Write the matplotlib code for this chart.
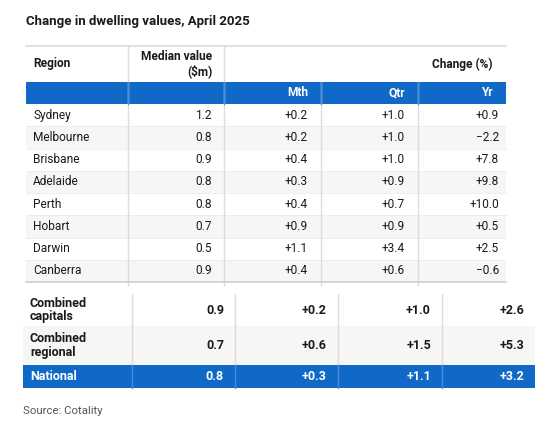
import matplotlib
matplotlib.use("Agg")
import matplotlib.pyplot as plt
from matplotlib.patches import Rectangle

plt.rcParams['font.family'] = ['Roboto', 'DejaVu Sans']

title = "Change in dwelling values, April 2025"
source = "Source: Cotality"

regions = ["Sydney", "Melbourne", "Brisbane", "Adelaide", "Perth", "Hobart", "Darwin", "Canberra"]
median = [1.2, 0.8, 0.9, 0.8, 0.8, 0.7, 0.5, 0.9]
mth = [0.2, 0.2, 0.4, 0.3, 0.4, 0.9, 1.1, 0.4]
qtr = [1.0, 1.0, 1.0, 0.9, 0.7, 0.9, 3.4, 0.6]
yr = [0.9, -2.2, 7.8, 9.8, 10.0, 0.5, 2.5, -0.6]

summary_labels = ["Combined\ncapitals", "Combined\nregional", "National"]
summary_median = [0.9, 0.7, 0.8]
summary_mth = [0.2, 0.6, 0.3]
summary_qtr = [1.0, 1.5, 1.1]
summary_yr = [2.6, 5.3, 3.2]

BLUE = "#1068c7"
GREY_BG = "#f6f6f6"
LINE = "#dcdcdc"
TXT = "#1a1a1a"
FS = 8.6
FSB = 9.0


def fmt(v):
    s = f"{abs(v):.1f}"
    return ("+" if v >= 0 else "\u2212") + s


W, H = 560, 424
fig = plt.figure(figsize=(W / 100, H / 100), dpi=100)
ax = fig.add_axes([0, 0, 1, 1])
ax.set_xlim(0, W)
ax.set_ylim(H, 0)
ax.axis("off")

ax.text(26, 22, title, fontsize=9.5, fontweight="bold", color=TXT, va="center", ha="left")

# top table geometry (pixels)
cols = [26, 128, 224, 321, 418, 506]
y_top, y_hdr, y_blue = 46, 82, 104
row_h = 22.25

ax.plot([cols[0], cols[-1]], [y_top, y_top], color=LINE, lw=1.2)
ax.add_patch(Rectangle((cols[0], y_hdr), cols[-1] - cols[0], y_blue - y_hdr, color=BLUE, lw=0))
ax.text(cols[0] + 7, (y_top + y_hdr) / 2, "Region", fontsize=FS, fontweight="bold", color=TXT, va="center")
ax.text(cols[2] - 12, (y_top + y_hdr) / 2, "Median value\n($m)", fontsize=FS, fontweight="bold",
        color=TXT, va="center", ha="right", linespacing=1.15)
ax.text(cols[-1] - 13, (y_top + y_hdr) / 2, "Change (%)", fontsize=FS, fontweight="bold",
        color=TXT, va="center", ha="right")
for x, lab in zip(cols[3:], ["Mth", "Qtr", "Yr"]):
    ax.text(x - 13, (y_hdr + y_blue) / 2, lab, fontsize=FS, fontweight="bold", color="white",
            va="center", ha="right")

y_end = y_blue + row_h * len(regions)
for i, name in enumerate(regions):
    y0 = y_blue + i * row_h
    if i % 2 == 1:
        ax.add_patch(Rectangle((cols[0], y0), cols[-1] - cols[0], row_h, color=GREY_BG, lw=0))
    if i > 0:
        ax.plot([cols[0], cols[-1]], [y0, y0], color="#ececec", lw=0.6)
    yc = y0 + row_h / 2
    ax.text(cols[0] + 7, yc, name, fontsize=FS, color=TXT, va="center")
    ax.text(cols[2] - 12, yc, f"{median[i]:.1f}", fontsize=FS, color=TXT, va="center", ha="right")
    ax.text(cols[3] - 13, yc, fmt(mth[i]), fontsize=FS, color=TXT, va="center", ha="right")
    ax.text(cols[4] - 13, yc, fmt(qtr[i]), fontsize=FS, color=TXT, va="center", ha="right")
    ax.text(cols[5] - 7, yc, fmt(yr[i]), fontsize=FS, color=TXT, va="center", ha="right")

for x in cols[1:3]:
    ax.plot([x, x], [y_top, y_end + 3], color=LINE, lw=1)
for x in cols[3:5]:
    ax.plot([x, x], [y_hdr, y_end + 3], color=LINE, lw=1)
ax.plot([cols[0], cols[-1]], [y_end, y_end], color="#cfcfcf", lw=1.2)
# lighter dividers within blue band
for x in cols[1:5]:
    ax.plot([x, x], [y_hdr, y_blue], color="#4a8bd6", lw=1)

# bottom summary table
bcols = [23, 132, 235, 338, 442, 535]
brows = [294, 326, 365, 388]
for i, lab in enumerate(summary_labels):
    y0, y1 = brows[i], brows[i + 1]
    national = i == len(summary_labels) - 1
    if national:
        ax.add_patch(Rectangle((bcols[0], y0), bcols[-1] - bcols[0], y1 - y0, color=BLUE, lw=0))
    elif i % 2 == 1:
        ax.add_patch(Rectangle((bcols[0], y0), bcols[-1] - bcols[0], y1 - y0, color=GREY_BG, lw=0))
    col = "white" if national else TXT
    yc = (y0 + y1) / 2
    ax.text(bcols[0] + 7, yc, lab, fontsize=FSB, fontweight="bold", color=col, va="center",
            linespacing=1.05)
    vals = [f"{summary_median[i]:.1f}", fmt(summary_mth[i]), fmt(summary_qtr[i]), fmt(summary_yr[i])]
    for x, v in zip(bcols[2:], vals):
        ax.text(x - 11, yc, v, fontsize=FSB, fontweight="bold", color=col, va="center", ha="right")
    for x in bcols[1:5]:
        ax.plot([x, x], [y0, y1], color="#4a8bd6" if national else LINE, lw=1)

ax.text(23, 411, source, fontsize=8.2, color="#555555", va="center")

fig.savefig("out.png", dpi=100)
